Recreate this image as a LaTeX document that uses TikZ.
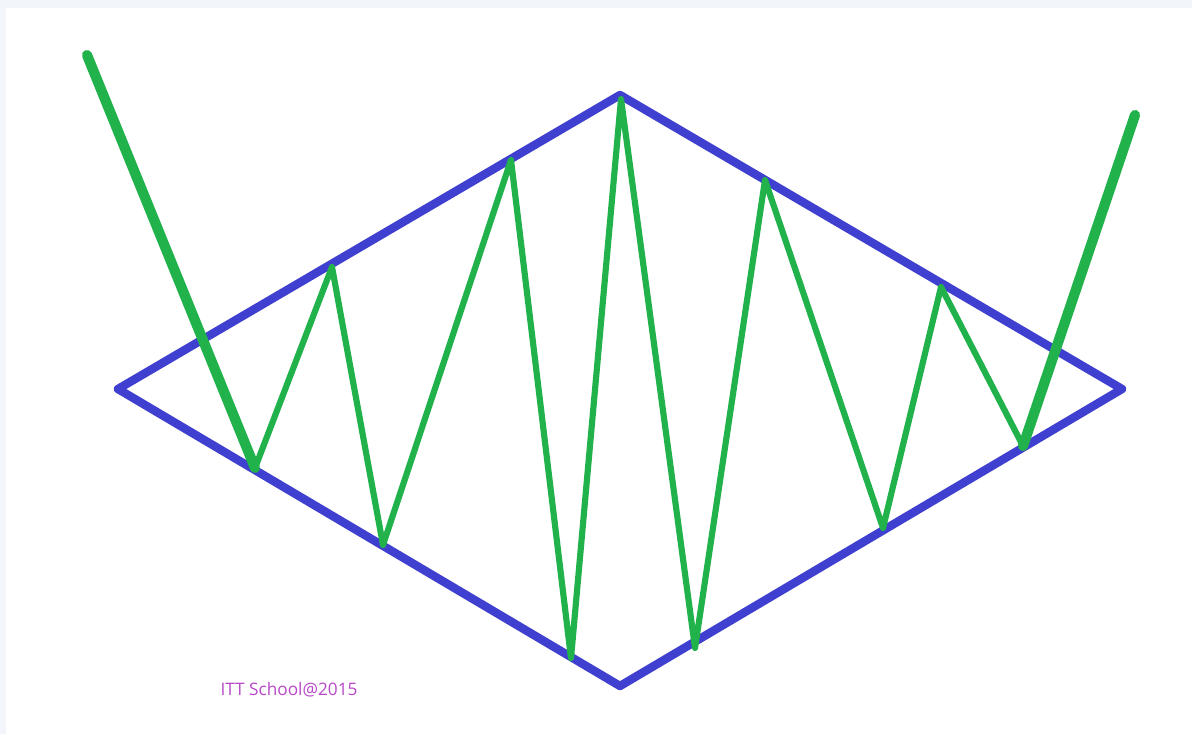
\documentclass[tikz,border=0pt]{standalone}
\usepackage{fontspec}
\setmainfont{Open Sans}
\usepackage{xcolor}
\definecolor{rimblue}{RGB}{64,64,208}
\definecolor{ziggreen}{RGB}{34,178,76}
\definecolor{markpink}{RGB}{184,72,200}
\definecolor{paneedge}{RGB}{242,245,250}

\begin{document}
\begin{tikzpicture}[x=0.02cm, y=-0.02cm,
                    rim/.style={rimblue, line width=4.8pt, line join=round, line cap=round},
                    zig/.style={ziggreen, line width=3.5pt, line join=round, line cap=round},
                    zigend/.style={ziggreen, line width=5.8pt, line cap=round}]
  \fill[paneedge] (0,0) rectangle (1192,734);
  \fill[white] (6,8) rectangle (1192,734);
  \useasboundingbox (0,0) rectangle (1192,734);
  \coordinate (west) at (118,389);
  \coordinate (north) at (620,95);
  \coordinate (east) at (1122,389);
  \coordinate (south) at (620,686);
  \draw[rim] (west) -- (north) -- (east) -- (south) -- cycle;
  \coordinate (in) at (87,55);
  \coordinate (out) at (1135,115);
  \coordinate (p1) at (255,468);
  \coordinate (p2) at (332,267);
  \coordinate (p3) at (383,545);
  \coordinate (p4) at (511,160);
  \coordinate (p5) at (571,658);
  \coordinate (p6) at (621,99);
  \coordinate (p7) at (695,648);
  \coordinate (p8) at (765,180);
  \coordinate (p9) at (883,528);
  \coordinate (p10) at (941,287);
  \coordinate (p11) at (1023,446);
  \draw[zig] (p1) -- (p2) -- (p3) -- (p4) -- (p5) -- (p6) -- (p7)
    -- (p8) -- (p9) -- (p10) -- (p11);
  \draw[zigend] (in) -- (p1);
  \draw[zigend] (p11) -- (out);
  \node[markpink, font=\fontsize{9.8}{12}\selectfont] (mark) at (289,690) {ITT School@2015};
\end{tikzpicture}
\end{document}
